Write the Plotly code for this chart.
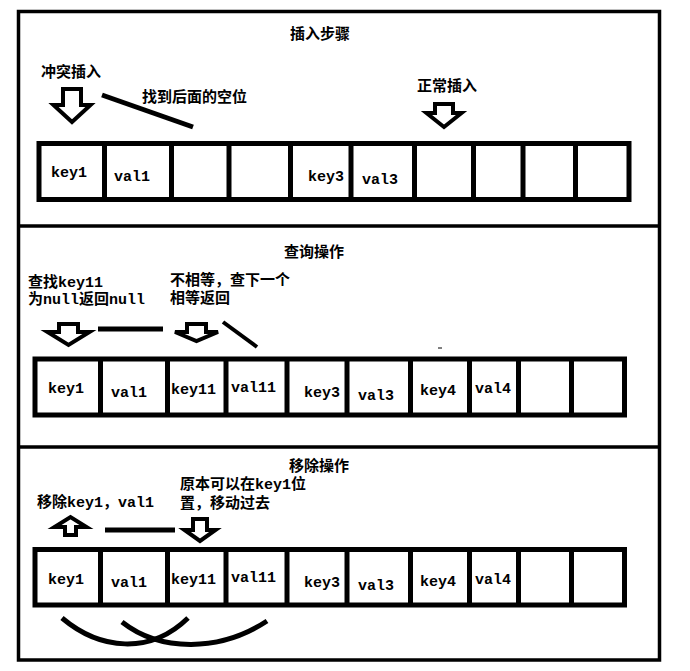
import plotly.graph_objects as go

# --- diagram text ---
panel_titles = ["插入步骤", "查询操作", "移除操作"]

insert_cells = ["key1", "val1", "", "", "key3", "val3", "", "", "", ""]
query_cells = ["key1", "val1", "key11", "val11", "key3", "val3", "key4", "val4", "", ""]
remove_cells = ["key1", "val1", "key11", "val11", "key3", "val3", "key4", "val4", "", ""]

insert_notes = ["冲突插入", "找到后面的空位", "正常插入"]
query_notes = ["查找key11", "为null返回null", "不相等，查下一个", "相等返回"]
remove_notes = ["移除key1，val1", "原本可以在key1位", "置，移动过去"]

# --- geometry (pixels of the page, y grows downwards) ---
W, H = 690, 671
PAD = 8  # default body margin of the html page
FONT = "Liberation Mono, Noto Sans CJK SC, monospace"

frame = dict(x0=18.5, x1=659.5, y0=11.5, y1=660, seps=[226, 447])

arrays = [
    dict(cells=insert_cells, x=[39, 104.5, 171.5, 229, 290.5, 351, 414.5, 473.5, 523, 575.5, 629],
         y0=143.5, y1=199.5,
         nudge=[(-3, 1.5), (-6, 5.5), (0, 0), (0, 0), (5, 5.5), (-3, 8.5), (0, 0), (0, 0), (0, 0), (0, 0)]),
    dict(cells=query_cells, x=[35, 100.5, 167.5, 226, 287, 347, 410.5, 469.5, 518.5, 571.5, 624.5],
         y0=359, y1=415,
         nudge=[(-2, 2), (-5.5, 6), (-3, 3), (-3, 1), (4.5, 6), (-3, 9), (-2.5, 4), (-1, 2), (0, 0), (0, 0)]),
    dict(cells=remove_cells, x=[35, 100.5, 167.5, 226, 287, 347, 410.5, 469.5, 518.5, 571.5, 624.5],
         y0=549.5, y1=605,
         nudge=[(-2, 3), (-5.5, 6), (-3, 3), (-3, 1), (4.5, 6), (-3, 9), (-2.5, 5), (-1, 3), (0, 0), (0, 0)]),
]

title_pos = [(288, 34), (282, 252), (287, 466)]
note_pos = [
    [(39, 72), (140, 97), (415, 86)],
    [(26, 282), (26, 300), (168, 280), (168, 298)],
    [(35, 502), (178, 484), (178, 503)],
]

# hollow block arrows: (cx, shaft_top, neck, tip, shaft_hw, head_hw)
down_arrows = [
    (72, 89, 105, 122, 9, 18.5),
    (444, 104, 113, 127, 9, 17.5),
    (68.5, 324, 332, 345, 9.5, 21),
    (196.5, 324, 332, 341, 9.5, 21.5),
    (200, 519, 530, 541, 7, 15.5),
]
up_arrows = [(70.5, 535, 527, 517, 5.5, 16)]

straight_lines = [
    (102, 95, 193, 127, 5),
    (98, 329, 163, 329, 5),
    (223, 322, 257, 347, 4),
    (105, 530, 175, 530, 5),
    (438, 348, 442, 348, 1),
]
curves = [
    "M 62 618 C 100 650, 150 655, 188 618",
    "M 122 622 C 160 652, 220 652, 267 621",
]


def arrow_path(cx, base, neck, tip, shw, hhw):
    pts = [(cx - shw, base), (cx + shw, base), (cx + shw, neck), (cx + hhw, neck),
           (cx, tip), (cx - hhw, neck), (cx - shw, neck)]
    return "M " + " L ".join(f"{px} {py}" for px, py in pts) + " Z"


fig = go.Figure()
fig.add_trace(go.Scatter(x=[PAD, W], y=[PAD, H], mode="markers", marker=dict(opacity=0),
                         hoverinfo="skip", showlegend=False))

shapes = []
line_black = dict(color="black", width=3.5)

# outer frame and panel separators
shapes.append(dict(type="rect", x0=frame["x0"], x1=frame["x1"], y0=frame["y0"], y1=frame["y1"],
                   line=line_black))
for s in frame["seps"]:
    shapes.append(dict(type="line", x0=frame["x0"], x1=frame["x1"], y0=s, y1=s, line=line_black))

annotations = []


def add_text(text, x, y, anchor="left", size=15):
    annotations.append(dict(text=text, x=x, y=y, xref="x", yref="y", showarrow=False,
                            xanchor=anchor, yanchor="middle",
                            font=dict(family=FONT, size=size, color="black", weight="bold")))


# arrays of cells
for arr in arrays:
    xs = arr["x"]
    shapes.append(dict(type="rect", x0=xs[0], x1=xs[-1], y0=arr["y0"], y1=arr["y1"],
                       line=dict(color="black", width=5)))
    for xd in xs[1:-1]:
        shapes.append(dict(type="line", x0=xd, x1=xd, y0=arr["y0"], y1=arr["y1"],
                           line=dict(color="black", width=5)))
    ymid = (arr["y0"] + arr["y1"]) / 2
    for i, label in enumerate(arr["cells"]):
        if not label:
            continue
        dx, dy = arr["nudge"][i]
        cx = (xs[i] + xs[i + 1]) / 2
        add_text(label, cx + dx, ymid + dy, anchor="center")

# titles and notes
for t, (tx, ty) in zip(panel_titles, title_pos):
    add_text(t, tx, ty)
for notes, positions in zip([insert_notes, query_notes, remove_notes], note_pos):
    for n, (nx, ny) in zip(notes, positions):
        add_text(n, nx, ny)

# arrows
for a in down_arrows + up_arrows:
    shapes.append(dict(type="path", path=arrow_path(*a), fillcolor="white",
                       line=dict(color="black", width=4)))

# strokes
for x0, y0, x1, y1, w in straight_lines:
    shapes.append(dict(type="line", x0=x0, y0=y0, x1=x1, y1=y1, line=dict(color="black", width=w)))
for c in curves:
    shapes.append(dict(type="path", path=c, line=dict(color="black", width=5)))

for s in shapes:
    s.setdefault("xref", "x")
    s.setdefault("yref", "y")

fig.update_layout(
    width=W - PAD, height=H - PAD,
    margin=dict(l=0, r=0, t=0, b=0),
    paper_bgcolor="white", plot_bgcolor="white",
    xaxis=dict(range=[PAD, W], visible=False, fixedrange=True),
    yaxis=dict(range=[H, PAD], visible=False, fixedrange=True),
    shapes=shapes, annotations=annotations,
    showlegend=False,
)

fig.write_html("out.html")
